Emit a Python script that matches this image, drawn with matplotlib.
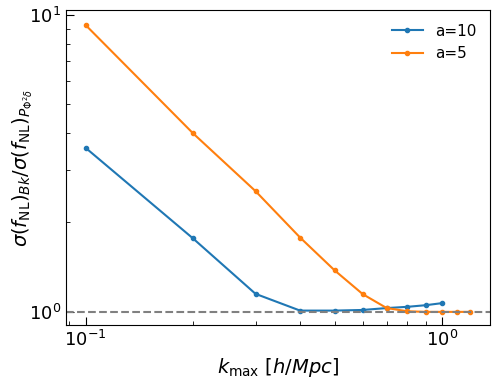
import matplotlib
matplotlib.use("Agg")
import matplotlib.pyplot as plt

k_a10 = [0.1, 0.2, 0.3, 0.4, 0.5, 0.6, 0.7, 0.8, 0.9, 1.0]
ratio_a10 = [3.57, 1.77, 1.15, 1.01, 1.01, 1.015, 1.03, 1.04, 1.053, 1.07]
k_a5 = [0.1, 0.2, 0.3, 0.4, 0.5, 0.6, 0.7, 0.8, 0.9, 1.0, 1.1, 1.2]
ratio_a5 = [9.25, 4.0, 2.55, 1.78, 1.38, 1.147, 1.03, 1.005, 1.0, 1.0, 1.0, 1.0]

fig = plt.figure(figsize=(4.98, 3.79), dpi=100)
ax = fig.add_axes([0.132, 0.142, 0.852, 0.832])
ax.plot(k_a10, ratio_a10, '.-', color='#1f77b4', label='a=10')
ax.plot(k_a5, ratio_a5, '.-', color='#ff7f0e', label='a=5')
ax.axhline(1.0, color='gray', ls='--')
ax.set_xscale('log')
ax.set_yscale('log')
ax.set_xlim(0.088, 1.365)
ax.set_ylim(0.902, 10.4)
ax.tick_params(which='both', direction='in', labelsize=13)
ax.tick_params(which='major', length=6)
ax.tick_params(which='minor', length=3)
ax.set_xlabel(r'$k_{\rm max}\ [h/Mpc]$', fontsize=14)
ax.set_ylabel(r'$\sigma(f_{\rm NL})_{Bk}/\sigma(f_{\rm NL})_{P_{\Phi^2\delta}}$', fontsize=14)
ax.yaxis.set_label_coords(-0.072, 0.5)
ax.legend(frameon=False, fontsize=11, loc='upper right')
fig.savefig('out.png', dpi=100)
